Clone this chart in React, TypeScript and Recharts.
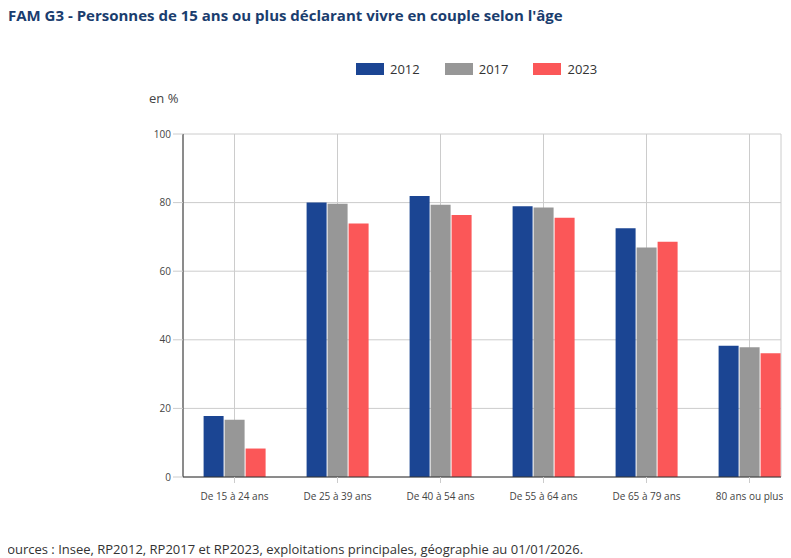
import React from 'react';
import { BarChart, Bar, XAxis, YAxis, CartesianGrid, Legend } from 'recharts';

const categories = ['De 15 à 24 ans', 'De 25 à 39 ans', 'De 40 à 54 ans', 'De 55 à 64 ans', 'De 65 à 79 ans', '80 ans ou plus'];
const v2012 = [17.8, 80.0, 81.9, 78.9, 72.5, 38.3];
const v2017 = [16.7, 79.7, 79.4, 78.6, 66.9, 37.8];
const v2023 = [8.3, 73.9, 76.4, 75.6, 68.6, 36.1];
const yTicks = [0, 20, 40, 60, 80, 100];

const data = categories.map((c, i) => ({ name: c, a: v2012[i], b: v2017[i], c: v2023[i] }));
const font = '"Open Sans", sans-serif';

export default function App() {
  return (
    <div style={{ position: 'relative', width: 783, height: 550, fontFamily: font }}>
      <div style={{ position: 'absolute', left: 0, top: -3, fontSize: 15, fontWeight: 700, color: '#1a3d6e' }}>
        FAM G3 - Personnes de 15 ans ou plus déclarant vivre en couple selon l'âge
      </div>
      <div style={{ position: 'absolute', left: 141, top: 81, fontSize: 13, color: '#444' }}>en %</div>
      <BarChart width={783} height={520} data={data} margin={{ top: 108, right: 10, bottom: 21, left: 135 }}
        barCategoryGap="20%" barGap={1}>
        <CartesianGrid stroke="#ccc" />
        <XAxis dataKey="name" padding={{ left: 0, right: -20 }} tick={{ fontSize: 10, fill: '#444', fontFamily: font }}
          tickLine={{ stroke: '#ccc' }} axisLine={{ stroke: '#333' }} height={30} tickMargin={10} interval={0} />
        <YAxis domain={[0, 100]} ticks={yTicks} width={40} tick={{ fontSize: 10, fill: '#444', fontFamily: font }}
          tickLine={{ stroke: '#ccc' }} axisLine={{ stroke: '#333' }} tickSize={10} />
        <Legend verticalAlign="top" align="left" iconType="rect" iconSize={0}
          wrapperStyle={{ top: 52, left: 348, width: 300 }}
          content={() => (
            <div style={{ display: 'flex', gap: 0, fontSize: 13, color: '#333' }}>
              {[['2012', '#1b4593'], ['2017', '#979797'], ['2023', '#fb5758']].map(([l, c]) => (
                <div key={l} style={{ display: 'flex', alignItems: 'center', marginRight: 25 }}>
                  <span style={{ width: 28, height: 12, background: c, display: 'inline-block', marginRight: 6 }} />
                  {l}
                </div>
              ))}
            </div>
          )} />
        <Bar dataKey="a" name="2012" fill="#1b4593" isAnimationActive={false} />
        <Bar dataKey="b" name="2017" fill="#979797" isAnimationActive={false} />
        <Bar dataKey="c" name="2023" fill="#fb5758" isAnimationActive={false} />
      </BarChart>
      <div style={{ position: 'absolute', left: -8, top: 532, fontSize: 13, color: '#333' }}>
        Sources : Insee, RP2012, RP2017 et RP2023, exploitations principales, géographie au 01/01/2026.
      </div>
    </div>
  );
}
